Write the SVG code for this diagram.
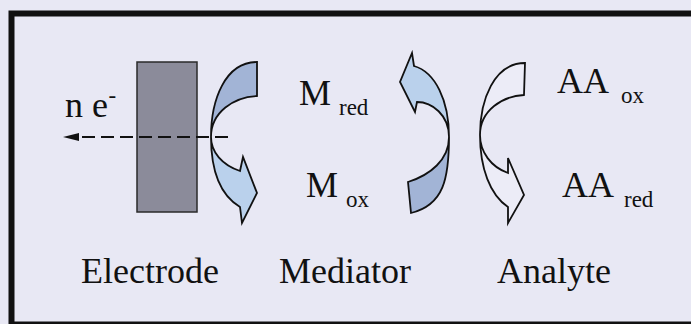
<svg xmlns="http://www.w3.org/2000/svg" width="691" height="324" viewBox="0 0 691 324">
<defs>
<style>
.t{font-family:"Liberation Serif","Times New Roman",serif;fill:#111;}
.big{font-size:36px;}
.sub{font-size:23px;}
.ol{stroke:#111;stroke-width:1.8;stroke-linejoin:miter;}
.tail{fill:#a2b4d6;}
.head{fill:#bad1ec;}
.white{fill:#ececf7;}
</style>
<marker id="ah" viewBox="0 0 16 8" refX="0" refY="4" markerWidth="16" markerHeight="8" markerUnits="userSpaceOnUse" orient="auto">
<path d="M0,0 L16,4 L0,8 Z" fill="#111"/>
</marker>
</defs>
<rect x="0" y="0" width="691" height="324" fill="#e8e8f4"/>
<rect id="frame" x="11.5" y="13.5" width="700" height="311" fill="none" stroke="#111" stroke-width="6"/>

<g id="electrode">
<rect x="137" y="62" width="60" height="150" fill="#8b8b9a" stroke="#2a2a2a" stroke-width="1.5"/>
<text class="t big" x="81" y="283">Electrode</text>
</g>

<g id="electrons">
<text class="t big" x="65" y="117">n e</text>
<text class="t sub" x="108.5" y="103">-</text>
</g>

<g id="mediator">
<text class="t big" x="299" y="105">M</text>
<text class="t sub" x="339" y="115">red</text>
<text class="t big" x="306" y="197">M</text>
<text class="t sub" x="346" y="207">ox</text>
<text class="t big" x="279" y="283">Mediator</text>
</g>

<g id="analyte">
<text class="t big" x="557" y="93">AA</text>
<text class="t sub" x="621" y="103">ox</text>
<text class="t big" x="562" y="197">AA</text>
<text class="t sub" x="624" y="207">red</text>
<text class="t big" x="497" y="283">Analyte</text>
</g>

<g id="connectors">
<g id="arrow-electrode-mediator">
<path class="tail ol" d="M257,62 C225,62 211,100 211,137 C211,112 234,97 257,96 Z"/>
<path class="head ol" d="M211,137 C211,170 220,195 240,207 L242,223 L257,193 L243,157 L240,171 C222,165 211,152 211,137 Z"/>
</g>
<g id="arrow-mediator-analyte">
<path class="head ol" d="M412,53 L414,66 C435,72 449,100 449,137 C449,115 432,102 417,102 L415,112 L400,82 Z"/>
<path class="tail ol" d="M449,137 C449,178 444,205 411,213 L408,182 C430,175 449,160 449,137 Z"/>
</g>
<g id="arrow-analyte">
<path class="white ol" d="M525,63 C494,63 480,100 480,135 C480,110 503,96 524,95 Z"/>
<path class="white ol" d="M480,135 C480,168 490,195 508,207 L508,223 L524,195 L508,158 L508,173 C491,167 480,152 480,135 Z"/>
</g>
<path id="electron-flow" d="M228,137 L79,137" fill="none" stroke="#111" stroke-width="2" stroke-dasharray="13 6" marker-end="url(#ah)"/>
</g>
</svg>
